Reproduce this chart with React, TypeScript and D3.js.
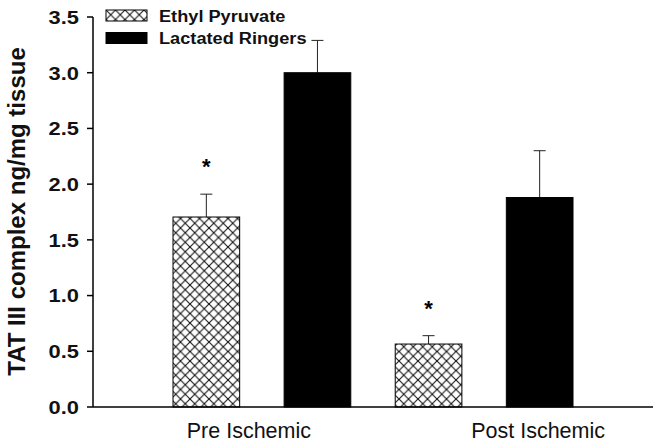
import React from "react";
import * as d3 from "d3";

const groups = ["Pre Ischemic", "Post Ischemic"];
const seriesNames = ["Ethyl Pyruvate", "Lactated Ringers"];
const ethylPyruvate = [1.705, 0.565];
const ethylPyruvateErr = [0.205, 0.075];
const lactatedRingers = [3.0, 1.88];
const lactatedRingersErr = [0.29, 0.42];
const significant = [true, false, true, false]; // per bar: EP pre, LR pre, EP post, LR post
const yTicks = [0, 0.5, 1.0, 1.5, 2.0, 2.5, 3.0, 3.5];
const yTitle = "TAT III complex ng/mg tissue";

const W = 662;
const H = 448;
const FONT = "'Liberation Sans', Arial, sans-serif";

export default function App() {
  const x0 = d3.scaleBand<string>().domain(groups).range([93, 653]).paddingInner(0.2).paddingOuter(0.36);
  const x1 = d3.scaleBand<string>().domain(seriesNames).range([0, x0.bandwidth()]).paddingInner(0.4).paddingOuter(0);
  const y = d3.scaleLinear().domain([0, 3.5]).range([407, 17]);

  const bars: { g: string; s: string; v: number; e: number; sig: boolean }[] = [];
  groups.forEach((g, gi) => {
    bars.push({ g, s: seriesNames[0], v: ethylPyruvate[gi], e: ethylPyruvateErr[gi], sig: significant[gi * 2] });
    bars.push({ g, s: seriesNames[1], v: lactatedRingers[gi], e: lactatedRingersErr[gi], sig: significant[gi * 2 + 1] });
  });

  const labelOffsets = [-13, 54];

  return (
    <svg width={W} height={H} style={{ position: "absolute", left: 0, top: 0, background: "#fff" }}>
      <defs>
        <pattern id="xhatch" patternUnits="userSpaceOnUse" width={9.5} height={9.5}>
          <rect width={9.5} height={9.5} fill="#fff" />
          <path d="M0,0 L9.5,9.5 M9.5,0 L0,9.5" stroke="#111" strokeWidth={1.1} />
        </pattern>
      </defs>
      <rect width={W} height={H} fill="#fff" />

      {/* bars */}
      {bars.map((b, i) => {
        const bx = (x0(b.g) ?? 0) + (x1(b.s) ?? 0);
        const bw = x1.bandwidth();
        const isEP = b.s === seriesNames[0];
        const cx = bx + bw / 2;
        return (
          <g key={i}>
            <line x1={cx} x2={cx} y1={y(b.v)} y2={y(b.v + b.e)} stroke="#222" strokeWidth={1} />
            <line x1={cx - 6} x2={cx + 6} y1={y(b.v + b.e)} y2={y(b.v + b.e)} stroke="#222" strokeWidth={1} />
            <rect
              x={bx}
              y={y(b.v)}
              width={bw}
              height={y(0) - y(b.v)}
              fill={isEP ? "url(#xhatch)" : "#000"}
              stroke="#000"
              strokeWidth={1}
            />
            {b.sig && (
              <text
                x={cx}
                y={y(b.v + b.e) - 20}
                textAnchor="middle"
                fontFamily={FONT}
                fontWeight="bold"
                fontSize={22}
                fill="#000"
              >
                *
              </text>
            )}
          </g>
        );
      })}

      {/* axes */}
      <line x1={93} x2={93} y1={y(3.5)} y2={y(0)} stroke="#000" strokeWidth={1.5} />
      <line x1={93} x2={653} y1={y(0)} y2={y(0)} stroke="#000" strokeWidth={1.5} />
      {yTicks.map((t) => (
        <g key={t}>
          <line x1={87} x2={93} y1={y(t)} y2={y(t)} stroke="#000" strokeWidth={1.5} />
          <text
            transform={`translate(79,${y(t)}) scale(1.15,1)`}
            dy="0.36em"
            textAnchor="end"
            fontFamily={FONT}
            fontWeight="bold"
            fontSize={19}
            fill="#111"
          >
            {t.toFixed(1)}
          </text>
        </g>
      ))}
      <text
        transform={`translate(25,${(45 + 378) / 2}) rotate(-90)`}
        textAnchor="middle"
        fontFamily={FONT}
        fontWeight="bold"
        fontSize={24}
        fill="#111"
      >
        {yTitle}
      </text>

      {groups.map((g, i) => (
        <text
          key={g}
          x={(x0(g) ?? 0) + x0.bandwidth() / 2 + labelOffsets[i]}
          y={438}
          textAnchor="middle"
          fontFamily={FONT}
          fontSize={21.5}
          fill="#111"
        >
          {g}
        </text>
      ))}

      {/* legend */}
      {seriesNames.map((s, i) => (
        <g key={s} transform={`translate(106,${10 + i * 22.5})`}>
          <rect width={41} height={11} fill={i === 0 ? "url(#xhatch)" : "#000"} stroke="#000" strokeWidth={1} />
          <text
            transform="translate(53,5.5) scale(1.07,1)"
            dy="0.36em"
            fontFamily={FONT}
            fontWeight="bold"
            fontSize={17}
            fill="#111"
          >
            {s}
          </text>
        </g>
      ))}
    </svg>
  );
}
